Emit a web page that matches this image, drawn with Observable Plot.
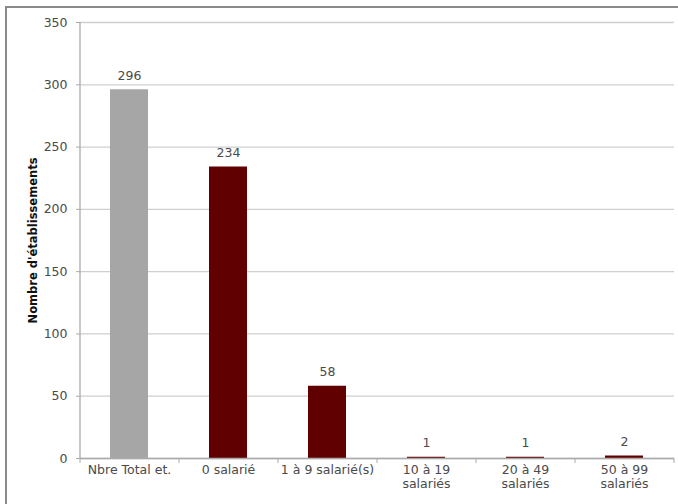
<!DOCTYPE html>
<html>
<head>
<meta charset="utf-8">
<script src="https://cdn.jsdelivr.net/npm/d3@7"></script>
<script src="https://cdn.jsdelivr.net/npm/@observablehq/plot@0.6"></script>
<style>
  html, body { margin: 0; padding: 0; background: #fff; }
  #wrap { position: relative; width: 678px; height: 504px; overflow: hidden; }
  #border { position: absolute; left: 5px; top: 6px; width: 700px; height: 520px;
            border-left: 2px solid #8a8a8a; border-top: 2px solid #8a8a8a; box-sizing: border-box; }
  #chart { position: absolute; left: 0; top: 0; }
</style>
</head>
<body>
<div id="wrap"><div id="border"></div><div id="chart"></div></div>
<script>
const categories = ["Nbre Total et.", "0 salarié", "1 à 9 salarié(s)", "10 à 19 salariés", "20 à 49 salariés", "50 à 99 salariés"];
const values = [296, 234, 58, 1, 1, 2];
const tickLabels = ["Nbre Total et.", "0 salarié", "1 à 9 salarié(s)", "10 à 19\nsalariés", "20 à 49\nsalariés", "50 à 99\nsalariés"];
const barColors = ["#a6a6a6", "#600000", "#600000", "#600000", "#600000", "#600000"];
const yTicks = [0, 50, 100, 150, 200, 250, 300, 350];

const data = categories.map((c, i) => ({cat: c, value: values[i], color: barColors[i]}));
const labelOf = new Map(categories.map((c, i) => [c, tickLabels[i]]));

const font = "DejaVu Sans";
const chart = Plot.plot({
  width: 678,
  height: 504,
  marginLeft: 80,
  marginRight: 4,
  marginTop: 22,
  marginBottom: 46,
  style: {fontFamily: font, fontSize: "12.5px", color: "#4a4a4a", background: "transparent"},
  x: {domain: categories, paddingInner: 0.616, paddingOuter: 0.308, axis: null},
  y: {domain: [0, 350], axis: null},
  marks: [
    Plot.gridY(yTicks, {stroke: "#cfcfcf", strokeOpacity: 1, strokeWidth: 1.3}),
    Plot.axisY({ticks: yTicks, tickSize: 4, tickPadding: 9, stroke: "#aaa", fill: "#4a4a4a", fontSize: 12.5, label: null}),
    Plot.barY(data, {x: "cat", y: "value", fill: "color"}),
    Plot.ruleY([0], {stroke: "#aaa", strokeWidth: 1.3}),
    Plot.ruleX([categories[0]], {dx: -49.5, stroke: "#aaa", strokeWidth: 1.3}),
    Plot.ruleX(categories, {x: d => d, y1: 0, y2: 0, insetBottom: -5, dx: -49.5, stroke: "#aaa"}),
    Plot.ruleX([categories[categories.length - 1]], {y1: 0, y2: 0, insetBottom: -5, dx: 49.5, stroke: "#aaa"}),
    Plot.axisX({tickSize: 0, tickPadding: 5, tickFormat: d => labelOf.get(d), fill: "#4a4a4a", fontSize: 12.5, lineHeight: 1.15, label: null}),
    Plot.text(data, {x: "cat", y: "value", text: d => String(d.value), dy: -14, fill: "#4a4a4a", fontSize: 12.5}),
    Plot.text(["Nombre d'établissements"], {frameAnchor: "left", textAnchor: "middle", dx: -47, rotate: -90, fontWeight: "bold", fontSize: 11.5, fill: "#111", text: d => d})
  ]
});
document.getElementById("chart").appendChild(chart);
</script>
</body>
</html>
